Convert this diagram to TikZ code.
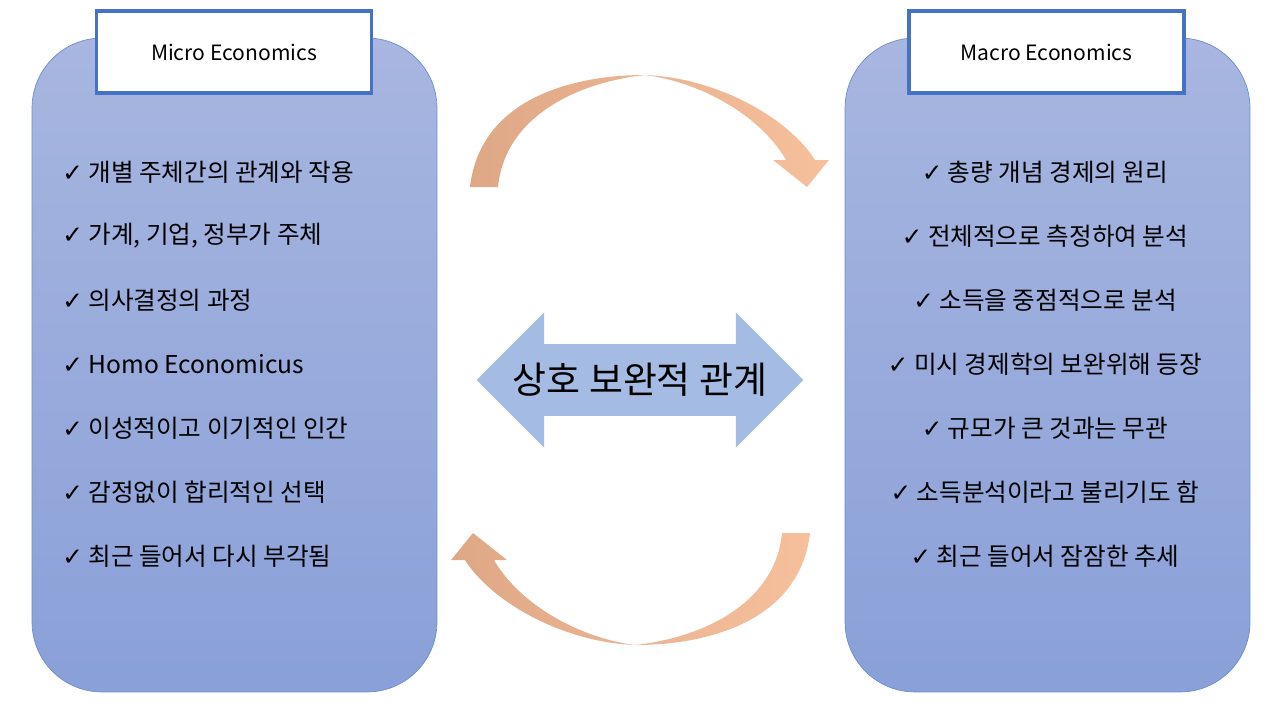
\documentclass[tikz,border=0pt]{standalone}
\usepackage{fontspec}
\setmainfont{Noto Sans CJK KR}
\newfontfamily\checkfont{DejaVu Sans}
\usepackage{xcolor}
\usetikzlibrary{shapes.arrows, positioning, calc}
\definecolor{paneltop}{RGB}{168,182,224}
\definecolor{panelbot}{RGB}{137,160,216}
\definecolor{titleline}{RGB}{68,114,196}
\definecolor{twoway}{RGB}{164,187,228}
\definecolor{arctan}{RGB}{222,168,134}
\definecolor{arcpeach}{RGB}{246,192,156}
\newcommand{\chk}{{\checkfont\char"2713}\ }
\begin{document}
\begin{tikzpicture}[
    x=0.02cm, y=-0.02cm,
    panel/.style={draw=titleline!80, rounded corners=1.4cm, top color=paneltop, bottom color=panelbot, minimum width=8.1cm, minimum height=13.08cm},
    title/.style={draw=titleline, line width=2.2pt, fill=white, minimum width=5.5cm, minimum height=1.65cm, font=\fontsize{12}{14}\selectfont},
    item/.style={font=\fontsize{14}{16}\selectfont, inner sep=0pt},
    arc/.style={left color=arctan, right color=arcpeach, draw=none}
]
    \useasboundingbox (0,0) rectangle (1280,720);

    % Panels
    \node[panel] (micro) at (234.5,365) {};
    \node[panel] (macro) at (1047.5,365) {};
    \node[title] (microtitle) at (234,52) {Micro Economics};
    \node[title] (macrotitle) at (1046.5,52) {Macro Economics};

    % Micro items
    \foreach \t [count=\i] in {개별 주체간의 관계와 작용, {가계, 기업, 정부가 주체}, 의사결정의 과정, Homo Economicus, 이성적이고 이기적인 인간, 감정없이 합리적인 선택, 최근 들어서 다시 부각됨}
        \node[item, anchor=west] (mi\i) at (62,108+64*\i) {\chk\t};

    % Macro items
    \foreach \t [count=\i] in {총량 개념 경제의 원리, 전체적으로 측정하여 분석, 소득을 중점적으로 분석, 미시 경제학의 보완위해 등장, 규모가 큰 것과는 무관, 소득분석이라고 불리기도 함, 최근 들어서 잠잠한 추세}
        \node[item] (ma\i) at (1045,108+64*\i) {\chk\t};

    % Two-way arrow
    \node[double arrow, fill=twoway, minimum width=2.7cm, minimum height=6.52cm, double arrow head extend=0.3cm, inner sep=0pt, font=\fontsize{21}{24}\selectfont] (both) at (640,380) {상호 보완적 관계};

    % Curved arrows
    \path[arc] (470,187) .. controls (480,100) and (570,75) .. (645,75)
        .. controls (720,78) and (790,120) .. (815,160) -- (829,160) -- (807,187) -- (773,160) -- (786,160)
        .. controls (760,115) and (700,82) .. (645,75)
        .. controls (580,82) and (505,115) .. (498,187) -- cycle;
    \begin{scope}[rotate around={180:(640,360)}]
        \path[arc] (470,187) .. controls (480,100) and (570,75) .. (645,75)
            .. controls (720,78) and (790,120) .. (815,160) -- (829,160) -- (807,187) -- (773,160) -- (786,160)
            .. controls (760,115) and (700,82) .. (645,75)
            .. controls (580,82) and (505,115) .. (498,187) -- cycle;
    \end{scope}
\end{tikzpicture}
\end{document}
